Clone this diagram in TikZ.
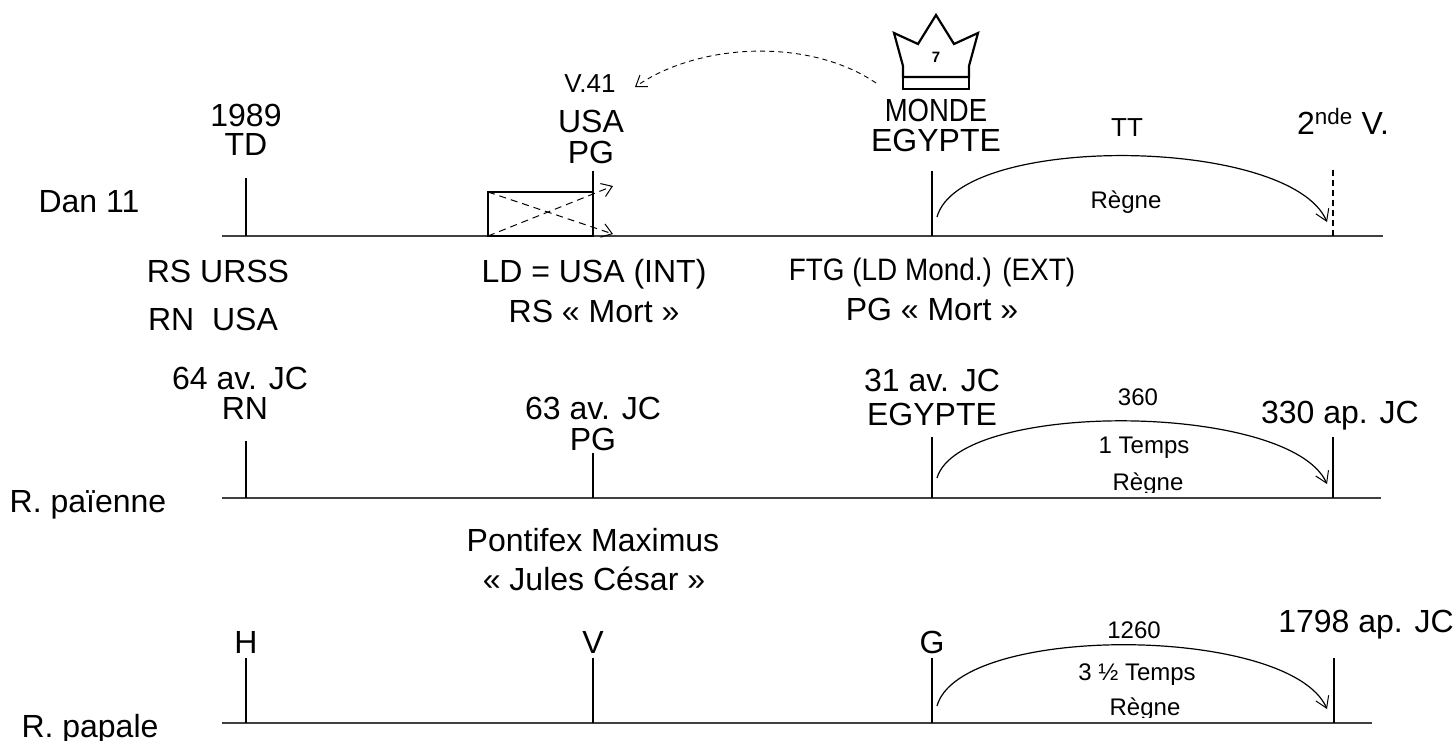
\documentclass[tikz,border=0pt]{standalone}
\usepackage{fontspec}
\setmainfont{Liberation Sans}
\usetikzlibrary{arrows.meta}
\begin{document}
\begin{tikzpicture}[x=1pt,y=-1pt,
  big/.style={font=\fontsize{32}{32}\selectfont, inner sep=0pt, anchor=base},
  mid/.style={font=\fontsize{26}{26}\selectfont, inner sep=0pt, anchor=base},
  small/.style={font=\fontsize{24}{24}\selectfont, inner sep=0pt, anchor=base},
  axis/.style={line width=1.8pt, draw=black!75},
  tick/.style={line width=1.1pt},
  rarc/.style={line width=1.2pt, -{Straight Barb[length=11pt,width=14pt,line width=1pt]}},
  dasharr/.style={line width=1pt, dash pattern=on 7pt off 5pt, -{Straight Barb[length=10pt,width=14pt,line width=1pt]}},
  crown/.style={line width=2.2pt, line join=miter},
]
\useasboundingbox (0,0) rectangle (1456,740);

% ---------- Row 1 : Dan 11 ----------
\coordinate (ax1a) at (222,236); \coordinate (ax1b) at (1383,236);
\draw[axis] (ax1a) -- (ax1b);
\coordinate (k11a) at (246,178); \coordinate (k11b) at (246,236);
\coordinate (k12a) at (593,171); \coordinate (k12b) at (593,236);
\coordinate (k13a) at (932,171); \coordinate (k13b) at (932,236);
\coordinate (k14a) at (1333,170); \coordinate (k14b) at (1333,236);
\draw[tick] (k11a) -- (k11b);
\draw[tick] (k12a) -- (k12b);
\draw[tick] (k13a) -- (k13b);
\draw[tick, dash pattern=on 6pt off 4pt] (k14a) -- (k14b);

% box with crossed dashed arrows
\coordinate (bxtl) at (488,192); \coordinate (bxbl) at (488,236);
\coordinate (bxbr) at (593,236);
\coordinate (bxa1) at (613,234); \coordinate (bxa2) at (613,186);
\draw[line width=1.1pt] (bxtl) rectangle (bxbr);
\draw[dasharr] (bxtl) -- (bxa1);
\draw[dasharr] (bxbl) -- (bxa2);

% reign arc row 1
\coordinate (r1s) at (937,217); \coordinate (r1e) at (1327,222);
\draw[rarc] (r1s) .. controls (960,133) and (1290,136) .. (r1e);

% crown
\draw[crown] (903,77) -- (903,66) -- (894,33) -- (918,44) -- (936,15) -- (954,44) -- (978,33) -- (969,66) -- (969,77) -- cycle;
\draw[crown] (903,77) rectangle (969,89);
\node[font=\bfseries\fontsize{15}{15}\selectfont, inner sep=0pt] (seven) at (936,57) {7};

% dashed curved arrow crown -> V.41
\coordinate (crs) at (876,83); \coordinate (v41t) at (635,87);
\draw[dasharr, line width=0.9pt, dash pattern=on 5pt off 4pt] (crs) .. controls (810,38) and (700,42) .. (v41t);

\node[big] (d11) at (89,212) {Dan 11};
\node[big] (y1989) at (246,126) {1989};
\node[big] (td) at (246,155) {TD};
\node[mid] (v41) at (590,92) {V.41};
\node[big] (usa) at (591,132) {USA};
\node[big] (pg1) at (591,163) {PG};
\node[big] (monde) at (936,121) {\scalebox{0.86}[1]{MONDE}};
\node[big] (egy1) at (936,151) {EGYPTE};
\node[mid] (tt) at (1127,136) {TT};
\node[small] (reg1) at (1126,208) {Règne};
\node[big] (snd) at (1343,134) {2\textsuperscript{nde} V.};
\node[big] (rs) at (218,282) {RS URSS};
\node[big] (rn) at (213,330) {RN\ \ USA};
\node[big] (ld) at (594,282) {LD = USA (INT)};
\node[big] (rsm) at (594,322) {RS « Mort »};
\node[big, font=\fontsize{31}{31}\selectfont] (ftg) at (932,280) {\scalebox{0.9}[1]{FTG (LD Mond.) (EXT)}};
\node[big] (pgm) at (932,320) {PG « Mort »};

% ---------- Row 2 : R. paienne ----------
\coordinate (ax2a) at (222,498); \coordinate (ax2b) at (1381,498);
\draw[axis] (ax2a) -- (ax2b);
\foreach \x/\n/\t in {246/1/441,593/2/453,932/3/437,1333/4/437}{
  \coordinate (k2\n a) at (\x,\t); \coordinate (k2\n b) at (\x,498);
  \draw[tick] (k2\n a) -- (k2\n b);
}
\coordinate (r2s) at (937,478); \coordinate (r2e) at (1327,484);
\draw[rarc] (r2s) .. controls (960,400) and (1290,402) .. (r2e);

\node[big] (y64) at (240,389) {64 av. JC};
\node[big] (rn2) at (245,419) {RN};
\node[big] (y63) at (593,419) {63 av. JC};
\node[big] (pg2) at (593,450) {PG};
\node[big] (y31) at (932,391) {31 av. JC};
\node[big] (egy2) at (932,425) {EGYPTE};
\node[small] (n360) at (1138,405) {360};
\node[big] (y330) at (1340,423) {330 ap. JC};
\node[small] (t1) at (1144,453) {1 Temps};
\begin{scope}
\clip (1090,460) rectangle (1200,492);
\node[small] (reg2) at (1148,490) {Règne};
\end{scope}
\node[big] (rp) at (88,512) {R. païenne};
\node[big] (pm) at (593,551) {Pontifex Maximus};
\node[big] (jc) at (594,590) {« Jules César »};

% ---------- Row 3 : R. papale ----------
\coordinate (ax3a) at (222,723); \coordinate (ax3b) at (1372,723);
\draw[axis] (ax3a) -- (ax3b);
\foreach \x/\n in {246/1,593/2,932/3,1334/4}{
  \coordinate (k3\n a) at (\x,658); \coordinate (k3\n b) at (\x,723);
  \draw[tick] (k3\n a) -- (k3\n b);
}
\coordinate (r3s) at (937,706); \coordinate (r3e) at (1327,709);
\draw[rarc] (r3s) .. controls (960,623) and (1290,625) .. (r3e);

\node[big] (h) at (246,653) {H};
\node[big] (v) at (593,653) {V};
\node[big] (g) at (932,653) {G};
\node[small] (n1260) at (1134,638) {1260};
\node[big] (y1798) at (1366,632) {1798 ap. JC};
\node[small] (t35) at (1137,680) {3 ½ Temps};
\begin{scope}
\clip (1090,690) rectangle (1200,717);
\node[small] (reg3) at (1145,715) {Règne};
\end{scope}
\node[big] (rpa) at (90,737) {R. papale};
\end{tikzpicture}
\end{document}
